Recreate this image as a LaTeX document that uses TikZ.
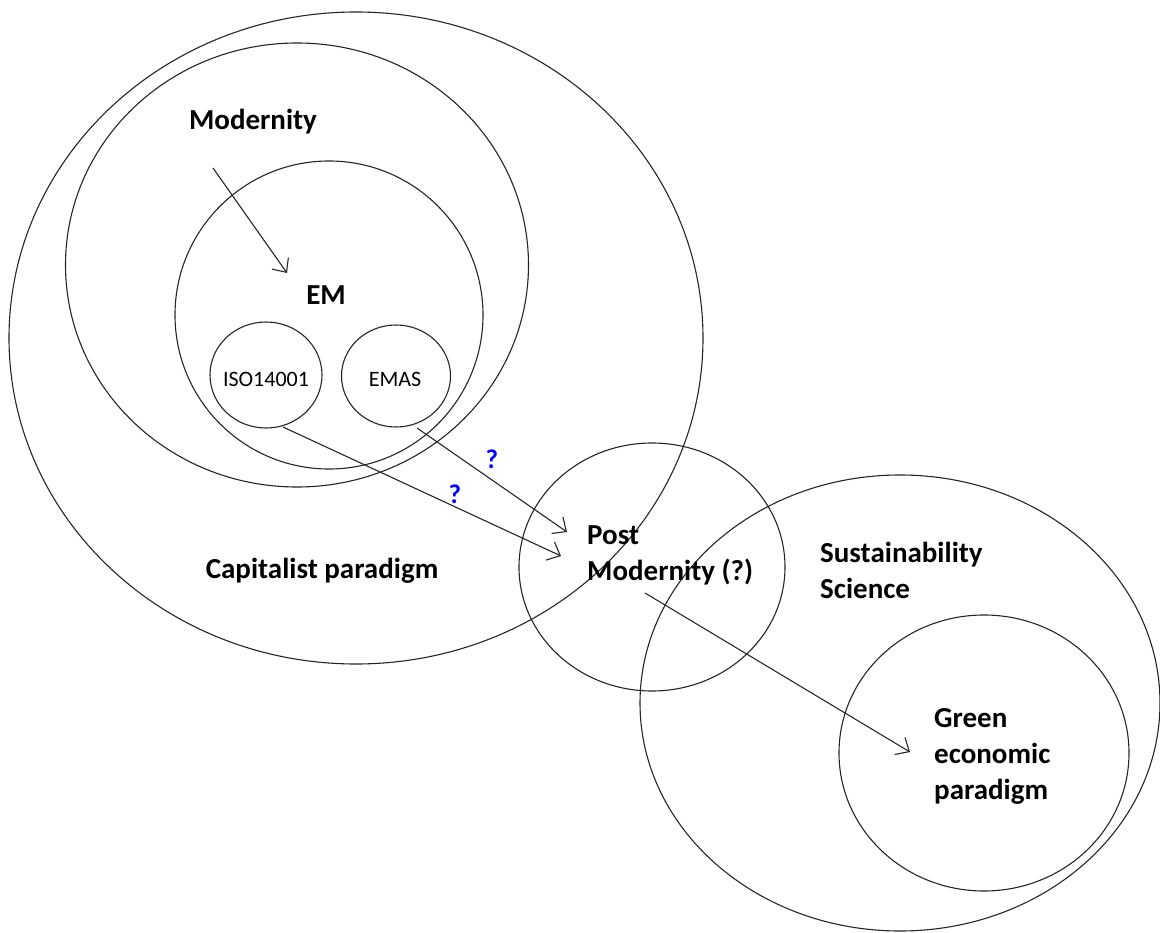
\documentclass[tikz,border=0pt]{standalone}
\usepackage{fontspec}
\setmainfont{Carlito}
\usetikzlibrary{shapes.geometric,arrows.meta}
\begin{document}
\begin{tikzpicture}[x=1pt,y=-1pt,
  ring/.style={draw=black!85, line width=1.1pt, ellipse, inner sep=0pt, outer sep=0pt},
  lbl/.style={font=\fontsize{29}{36}\selectfont\bfseries, text=black, inner sep=0pt, align=left},
  small/.style={font=\fontsize{22}{26}\selectfont, text=black, inner sep=0pt},
  qm/.style={font=\fontsize{27}{32}\selectfont\bfseries, text=blue, inner sep=0pt},
  link/.style={draw=black!85, line width=1.1pt, -{Straight Barb[length=11pt,width=20pt]}}]
\useasboundingbox (0,0) rectangle (1160,933);
\fill[white] (0,0) rectangle (1160,933);
% circles / ellipses
\node[ring, minimum width=694pt, minimum height=652pt] (cap) at (356,338) {};
\node[ring, minimum width=463pt, minimum height=444pt] (mod) at (297,265) {};
\node[ring, minimum width=308pt, minimum height=308pt] (em) at (329,315) {};
\node[ring, minimum width=112pt, minimum height=106pt] (iso) at (266,375) {};
\node[ring, minimum width=109pt, minimum height=102pt] (emas) at (396,376) {};
\node[ring, minimum width=266pt, minimum height=248pt] (post) at (652,567) {};
\node[ring, minimum width=520pt, minimum height=456pt] (sus) at (900,703) {};
\node[ring, minimum width=290pt, minimum height=276pt] (green) at (984,753) {};
% labels
\node[lbl] (tmod) at (253,122) {Modernity};
\node[lbl] (tem) at (326,295) {EM};
\node[small] (tiso) at (266,379) {ISO14001};
\node[small] (temas) at (395,379) {EMAS};
\node[lbl] (tcap) at (322,571) {Capitalist paradigm};
\node[lbl, anchor=west] (tpost) at (587,555) {Post\\Modernity (?)};
\node[lbl, anchor=west] (tsus) at (820,570) {Sustainability\\Science};
\node[lbl, anchor=west] (tgreen) at (934,756) {Green\\economic\\paradigm};
\node[qm] (q1) at (492,459) {?};
\node[qm] (q2) at (455,494) {?};
% connector ends
\coordinate (a1s) at (213,168);
\coordinate (a1e) at (287,273);
\coordinate (isoout) at (283,427);
\coordinate (emasout) at (417,428);
\coordinate (pin1) at (567,532);
\coordinate (pin2) at (561,556);
\coordinate (pout) at (645,593);
\coordinate (gin) at (910,752);
% connectors
\draw[link] (a1s) -- (a1e);
\draw[link] (emasout) -- (pin1);
\draw[link] (isoout) -- (pin2);
\draw[link] (pout) -- (gin);
\end{tikzpicture}
\end{document}
